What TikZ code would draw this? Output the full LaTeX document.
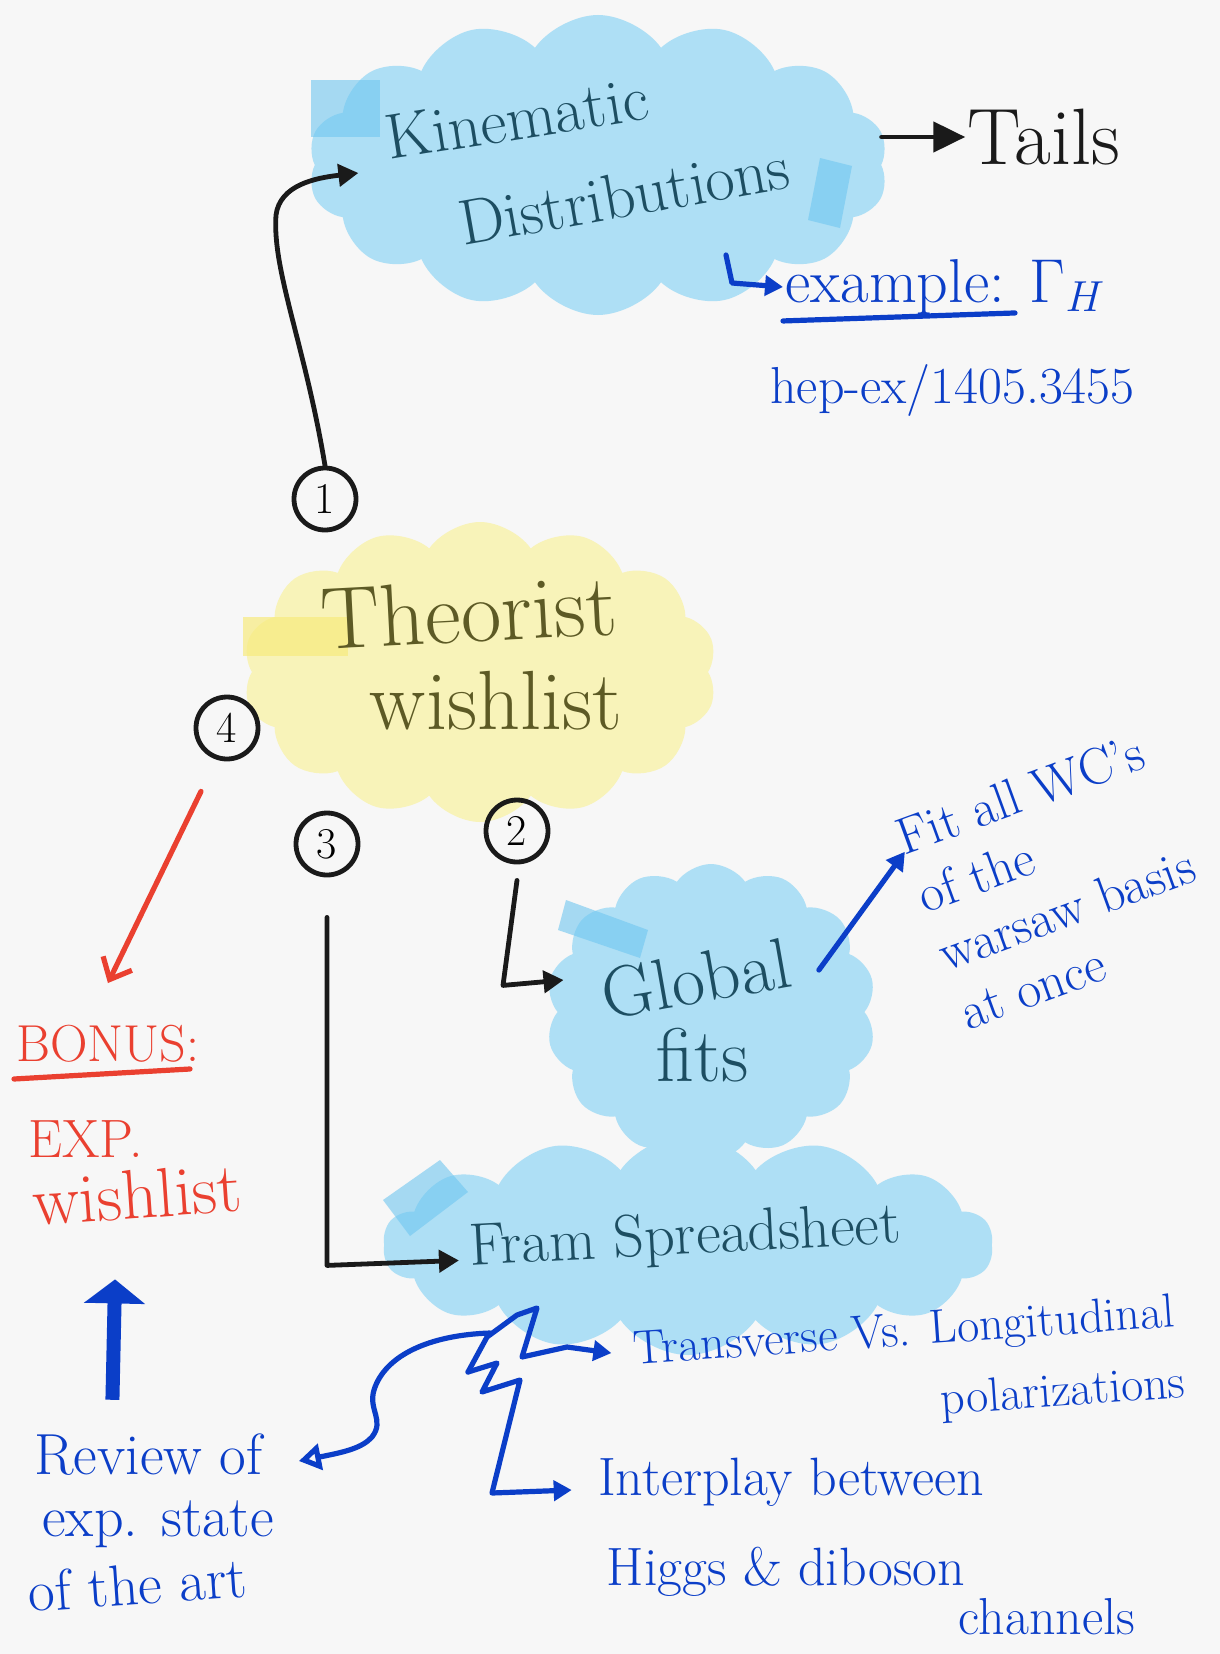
\RequirePackage{fix-cm}
\documentclass[tikz,border=0pt]{standalone}
\usetikzlibrary{shapes.symbols,arrows.meta}

\definecolor{bgpaper}{HTML}{F7F7F7}
\definecolor{skyfill}{HTML}{AEDFF5}
\definecolor{skytape}{HTML}{6FC6F0}
\definecolor{lemonfill}{HTML}{F8F3B9}
\definecolor{lemontape}{HTML}{F7EB7E}
\definecolor{tealink}{HTML}{1D4E62}
\definecolor{oliveink}{HTML}{5D5A25}
\definecolor{blueink}{HTML}{0B3EC8}
\definecolor{redink}{HTML}{EA4030}
\definecolor{blackink}{HTML}{1A1A1A}

\begin{document}
\begin{tikzpicture}[
  x=0.5pt, y=-0.5pt,
  skycloud/.style={cloud, cloud puffs=14, cloud puff arc=110, cloud ignores aspect,
    fill=skyfill, draw=none, inner sep=0pt},
  lemoncloud/.style={skycloud, fill=lemonfill},
  tape/.style={fill=skytape, opacity=0.6},
  tealtxt/.style={text=tealink, inner sep=1pt},
  olivetxt/.style={text=oliveink, inner sep=1pt},
  bluetxt/.style={text=blueink, inner sep=1pt},
  redtxt/.style={text=redink, inner sep=1pt},
  numring/.style={circle, draw=blackink, line width=2.4pt, minimum size=31pt,
    inner sep=0pt, font=\fontsize{22}{22}\selectfont},
  blkline/.style={draw=blackink, line width=2.4pt, line cap=round, line join=round},
  blkarrow/.style={blkline, -{Triangle[length=10pt,width=11pt]}},
  bluearrow/.style={draw=blueink, line width=2.6pt, line cap=round, line join=round,
    -{Triangle[length=9pt,width=10pt]}},
  redarrow/.style={draw=redink, line width=2.6pt, line cap=round,
    -{Straight Barb[length=9pt,width=16pt]}},
  stroke/.style={line width=2.6pt, line cap=round},
]

% Paper
\fill[bgpaper] (0,0) rectangle (1220,1654);
\useasboundingbox (0,0) rectangle (1220,1654);

% Clouds
\node[skycloud, minimum width=290pt, minimum height=150pt] (kin) at (598,165) {};
\node[lemoncloud, minimum width=237pt, minimum height=150pt] (theo) at (480,672) {};
\node[skycloud, minimum width=165pt, minimum height=148pt] (glob) at (711,1012) {};
\node[skycloud, minimum width=305pt, minimum height=110pt] (fram) at (688,1245) {};

% Tape strips
\fill[tape] (311,80) rectangle (380,137);
\fill[tape] (820,158) -- (852,166) -- (840,228) -- (808,220) -- cycle;
\fill[lemontape, opacity=0.7] (243,617) rectangle (348,656);
\fill[tape] (566,900) -- (648,930) -- (640,958) -- (558,930) -- cycle;
\fill[tape] (383,1200) -- (440,1160) -- (468,1192) -- (410,1236) -- cycle;

% Cloud texts
\node[tealtxt, rotate=9, font=\fontsize{32}{38}\selectfont] (kinA) at (517,118) {Kinematic};
\node[tealtxt, rotate=10, font=\fontsize{32}{38}\selectfont] (kinB) at (624,195) {Distributions};
\node[olivetxt, rotate=3, font=\fontsize{44}{50}\selectfont] (theA) at (469,612) {Theorist};
\node[olivetxt, font=\fontsize{42}{48}\selectfont] (theB) at (496,701) {wishlist};
\node[tealtxt, rotate=10, font=\fontsize{36}{42}\selectfont] (globA) at (696,979) {Global};
\node[tealtxt, font=\fontsize{38}{44}\selectfont] (globB) at (703,1055) {fits};
\node[tealtxt, rotate=3, font=\fontsize{30}{36}\selectfont] (framtxt) at (685,1239) {Fram Spreadsheet};

% Side notes
\node[text=blackink, inner sep=1pt, font=\fontsize{40}{46}\selectfont] (tails) at (1044,137) {Tails};
\node[bluetxt, anchor=west, font=\fontsize{31}{36}\selectfont] (ex) at (783,287) {example: $\Gamma_H$};
\draw[stroke, blueink] ([yshift=-2pt]ex.south west) -- ++(232,-8);
\node[bluetxt, anchor=west, font=\fontsize{26}{30}\selectfont] (hep) at (768,390) {hep-ex/1405.3455};
\node[bluetxt, rotate=20, align=left, font=\fontsize{26}{31}\selectfont] (fit) at (1056,880)
  {Fit all WC's\\of the\\warsaw basis\\at once};
\node[bluetxt, rotate=4, font=\fontsize{24}{28}\selectfont] (transA) at (904,1334) {Transverse Vs. Longitudinal};
\node[bluetxt, rotate=4, font=\fontsize{24}{28}\selectfont] (transB) at (1063,1394) {polarizations};
\node[bluetxt, font=\fontsize{27}{32}\selectfont] (interA) at (791,1482) {Interplay between};
\node[bluetxt, font=\fontsize{27}{32}\selectfont] (interB) at (786,1572) {Higgs \& diboson};
\node[bluetxt, font=\fontsize{26}{30}\selectfont] (interC) at (1047,1617) {channels};

% Bonus block
\node[redtxt, anchor=west, font=\fontsize{26}{30}\selectfont] (bonus) at (14,1044) {BONUS:};
\draw[stroke, redink] ([yshift=-7pt]bonus.south west) -- ++(176,-10);
\node[redtxt, anchor=west, font=\fontsize{27}{32}\selectfont] (expA) at (26,1139) {EXP.};
\node[redtxt, anchor=west, rotate=4, font=\fontsize{35}{40}\selectfont] (expB) at (30,1202) {wishlist};
\node[bluetxt, anchor=west, font=\fontsize{29}{34}\selectfont] (rev1) at (32,1455) {Review of};
\node[bluetxt, anchor=west, font=\fontsize{29}{34}\selectfont] (rev2) at (40,1524) {exp. state};
\node[bluetxt, anchor=west, rotate=4, font=\fontsize{29}{34}\selectfont] (rev3) at (26,1592) {of the art};

% Numbered rings
\node[numring] (c1) at (325,499) {1};
\node[numring] (c2) at (517,831) {2};
\node[numring] (c3) at (327,844) {3};
\node[numring] (c4) at (227,728) {4};

% Connectors
\draw[blkarrow] (c1.north) .. controls (305,345) and (272,270) .. (276,215)
  .. controls (280,185) and (315,178) .. ([xshift=22pt,yshift=-4pt]kin.west);
\draw[blkline, -{Triangle[length=16pt,width=15pt]}] (kin.east |- tails.west) -- (tails.west);
\draw[blkarrow] ([yshift=-8pt]c2.south) -- ++(-14,105) -- ([xshift=-18pt,yshift=8pt]globA.west);
\draw[blkarrow] ([yshift=-20pt]c3.south) -- ++(0,348) -- ([xshift=-4pt,yshift=-5pt]framtxt.west);
\draw[redarrow] ([shift={(-13pt,-15pt)}]c4.south) -- ([yshift=20pt]bonus.north);

\coordinate (exhook) at (726,255);
\draw[bluearrow] (exhook) -- ++(6,28) -- (ex.west);
\draw[bluearrow] ([shift={(-23pt,21pt)}]glob.east) -- ([shift={(8pt,-16pt)}]fit.north west);

\coordinate (zzroot) at (468,1372);
\coordinate (cvroot) at (490,1333);
\draw[bluearrow] (zzroot) -- ++(19,-35) -- ++(30,-22) -- ++(20,-7) -- ++(-15,49)
  -- ++(45,-10) -- ([xshift=-10pt]transA.west);
\draw[bluearrow] (zzroot) -- ++(29,-9) -- ++(-15,29) -- ++(38,-12) -- ++(-28,113)
  -- ([xshift=-12pt,yshift=-4pt]interA.west);
\draw[bluearrow, -{Triangle[open,length=11pt,width=13pt]}] (cvroot)
  .. controls (430,1335) and (385,1355) .. (374,1390)
  .. controls (368,1410) and (385,1420) .. (372,1437)
  .. controls (362,1448) and (345,1452) .. ([xshift=17pt,yshift=-3pt]rev1.east);
\draw[draw=blueink, line width=7pt, -{Triangle[length=12pt,width=30pt]}]
  ([xshift=-18pt,yshift=16pt]rev1.north) -- ([xshift=-12pt,yshift=-29pt]expB.south);

\end{tikzpicture}
\end{document}
